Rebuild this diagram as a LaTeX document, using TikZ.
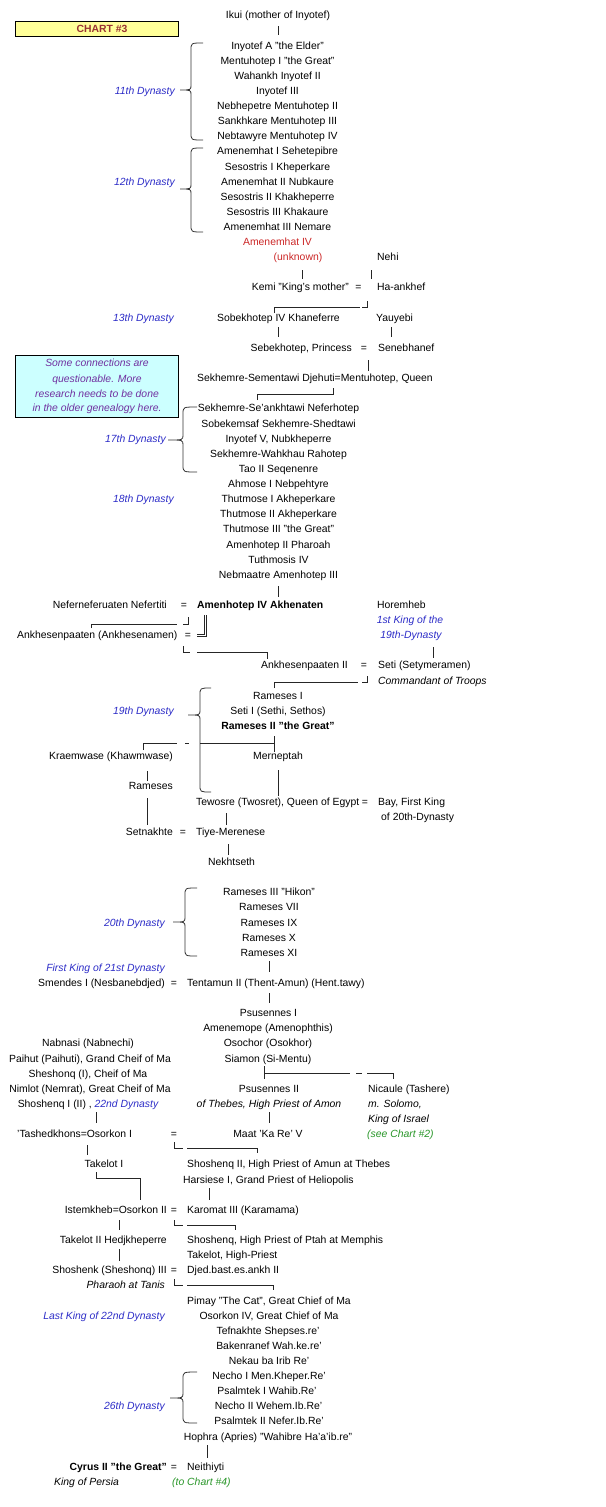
\documentclass[tikz,border=0pt]{standalone}
\usepackage{fontspec}
\setmainfont{Liberation Sans}
\definecolor{dynblue}{RGB}{45,45,200}
\definecolor{chartred}{RGB}{153,51,51}
\definecolor{kingred}{RGB}{204,40,40}
\definecolor{notepurple}{RGB}{112,48,160}
\definecolor{seegreen}{RGB}{40,150,40}
\definecolor{noteback}{RGB}{204,255,255}
\definecolor{chartback}{RGB}{255,255,153}
\newcommand\RY[1]{-(18.8+15.12*(#1))}
\newcommand\fsz{\fontsize{10.4}{12.5}\selectfont}
\newcommand\brc[6]{%
  \draw[brcs] (#3,-#4) .. controls (#2,-#4) .. (#2,{-#4-7}) -- (#2,{-#5+5})
    .. controls (#2,-#5) .. (#1,-#5) .. controls (#2,-#5) .. (#2,{-#5-5})
    -- (#2,{-#6+7}) .. controls (#2,-#6) .. (#3,-#6);}
\begin{document}
\begin{tikzpicture}[x=1pt,y=1pt,
  lbl/.style={font=\fsz, inner sep=0pt, text=black},
  c/.style={lbl,anchor=base},
  l/.style={lbl,anchor=base west},
  r/.style={lbl,anchor=base east},
  dyn/.style={text=dynblue, font=\fsz\itshape},
  it/.style={font=\fsz\itshape},
  bf/.style={font=\fsz\bfseries},
  red/.style={text=kingred},
  grn/.style={text=seegreen, font=\fsz\itshape},
  note/.style={text=notepurple, font=\fsz\itshape},
  conn/.style={line width=0.8pt, draw=black!85},
  brcs/.style={line width=0.8pt, draw=black!80},
  dbl/.style={draw=black!85, line width=0.6pt, double=white, double distance=1.4pt}]
\fill[white] (0,0) rectangle (605,-1507);
\useasboundingbox (0,0) rectangle (605,-1507);

% chart label and note
\node[draw=black, fill=chartback, minimum width=163pt, minimum height=15pt, inner sep=0pt, line width=0.8pt] (chartbox) at (96.5,-28.5) {};
\node[lbl, font=\fsz\bfseries, text=chartred] (chart) at (102,-28.8) {CHART \#3};
\node[draw=black, fill=noteback, minimum width=163pt, minimum height=62pt, inner sep=0pt, line width=0.8pt] (notebox) at (96.5,-386) {};
\node[c,note] (note1) at (97,{-(363+3.8)}) {Some connections are};
\node[c,note] (note2) at (97,{-(379+3.8)}) {questionable. More};
\node[c,note] (note3) at (97,{-(394+3.8)}) {research needs to be done};
\node[c,note] (note4) at (97,{-(408+3.8)}) {in the older genealogy here.};

% dynasty labels
\node[r,dyn] (d11) at (175,{\RY{5}}) {11th Dynasty};
\node[r,dyn] (d12) at (175,{\RY{11}}) {12th Dynasty};
\node[r,dyn] (d13) at (174,{\RY{20}}) {13th Dynasty};
\node[r,dyn] (d17) at (166,{\RY{28}}) {17th Dynasty};
\node[r,dyn] (d18) at (174,{\RY{32}}) {18th Dynasty};
\node[r,dyn] (d19) at (174,{\RY{46}}) {19th Dynasty};
\node[r,dyn] (d20) at (165,{\RY{60}}) {20th Dynasty};
\node[r,dyn] (d21) at (165,{\RY{63}}) {First King of 21st Dynasty};
\node[r,dyn] (d22) at (165,{\RY{86}}) {Last King of 22nd Dynasty};
\node[r,dyn] (d26) at (165,{\RY{92}}) {26th Dynasty};

% braces
\brc{180}{191}{203}{43}{90}{140}
\brc{180}{191}{203}{148}{189}{232}
\brc{168}{183}{197}{407}{440}{472}
\brc{188}{200}{211}{688}{715}{792}
\brc{173}{185}{197}{888}{922}{956}
\brc{170}{183}{197}{1372}{1398}{1423}

% central column
\node[c] (k00) at (278,{\RY{0}}) {Ikui (mother of Inyotef)};
\node[c] (k02) at (277.5,{\RY{2}}) {Inyotef A "the Elder"};
\node[c] (k03) at (277.5,{\RY{3}}) {Mentuhotep I "the Great"};
\node[c] (k04) at (277.5,{\RY{4}}) {Wahankh Inyotef II};
\node[c] (k05) at (277.5,{\RY{5}}) {Inyotef III};
\node[c] (k06) at (277.5,{\RY{6}}) {Nebhepetre Mentuhotep II};
\node[c] (k07) at (277.5,{\RY{7}}) {Sankhkare Mentuhotep III};
\node[c] (k08) at (277.5,{\RY{8}}) {Nebtawyre Mentuhotep IV};
\node[c] (k09) at (277.5,{\RY{9}}) {Amenemhat I Sehetepibre};
\node[c] (k10) at (277.5,{\RY{10}}) {Sesostris I Kheperkare};
\node[c] (k11) at (277.5,{\RY{11}}) {Amenemhat II Nubkaure};
\node[c] (k12) at (277.5,{\RY{12}}) {Sesostris II Khakheperre};
\node[c] (k13) at (277.5,{\RY{13}}) {Sesostris III Khakaure};
\node[c] (k14) at (277.5,{\RY{14}}) {Amenemhat III Nemare};
\node[c,red] (k15) at (277.5,{\RY{15}}) {Amenemhat IV};
\node[c,red] (k16) at (298,{\RY{16}}) {(unknown)};
\node[l] (nehi) at (377,{\RY{16}}) {Nehi};
\node[r] (kemi) at (349,{\RY{18}}) {Kemi "King's mother"};
\node[c] (eq18) at (358.5,{\RY{18}}) {=};
\node[l] (haankhef) at (377,{\RY{18}}) {Ha-ankhef};
\node[c] (k20) at (278.5,{\RY{20}}) {Sobekhotep IV Khaneferre};
\node[l] (yauyebi) at (376,{\RY{20}}) {Yauyebi};
\node[r] (k22) at (352,{\RY{22}}) {Sebekhotep, Princess};
\node[c] (eq22) at (364,{\RY{22}}) {=};
\node[l] (seneb) at (378,{\RY{22}}) {Senebhanef};
\node[l] (k24) at (197,{\RY{24}}) {Sekhemre-Sementawi Djehuti=Mentuhotep, Queen};
\node[c] (k26) at (278.5,{\RY{26}}) {Sekhemre-Se'ankhtawi Neferhotep};
\node[c] (k27) at (278.5,{\RY{27}}) {Sobekemsaf Sekhemre-Shedtawi};
\node[c] (k28) at (278.5,{\RY{28}}) {Inyotef V, Nubkheperre};
\node[c] (k29) at (278.5,{\RY{29}}) {Sekhemre-Wahkhau Rahotep};
\node[c] (k30) at (278.5,{\RY{30}}) {Tao II Seqenenre};
\node[c] (k31) at (278.5,{\RY{31}}) {Ahmose I Nebpehtyre};
\node[c] (k32) at (278.5,{\RY{32}}) {Thutmose I Akheperkare};
\node[c] (k33) at (278.5,{\RY{33}}) {Thutmose II Akheperkare};
\node[c] (k34) at (278.5,{\RY{34}}) {Thutmose III "the Great"};
\node[c] (k35) at (278.5,{\RY{35}}) {Amenhotep II Pharoah};
\node[c] (k36) at (278.5,{\RY{36}}) {Tuthmosis IV};
\node[c] (k37) at (278.5,{\RY{37}}) {Nebmaatre Amenhotep III};
\node[r] (nefertiti) at (167,{\RY{39}}) {Neferneferuaten Nefertiti};
\node[c] (eq39) at (184,{\RY{39}}) {=};
\node[l,bf] (akhenaten) at (197,{\RY{39}}) {Amenhotep IV Akhenaten};
\node[l] (horemheb) at (377,{\RY{39}}) {Horemheb};
\node[c,dyn] (first19a) at (410,{\RY{40}}) {1st King of the};
\node[c,dyn] (first19b) at (411,{\RY{41}}) {19th-Dynasty};
\node[l] (ankhes) at (17,{\RY{41}}) {Ankhesenpaaten (Ankhesenamen)};
\node[c] (eq41) at (188,{\RY{41}}) {=};
\node[r] (ankhes2) at (348,{\RY{43}}) {Ankhesenpaaten II};
\node[c] (eq43) at (364,{\RY{43}}) {=};
\node[l] (seti) at (378,{\RY{43}}) {Seti (Setymeramen)};
\node[l,it] (commandant) at (378,{\RY{44}}) {Commandant of Troops};
\node[c] (k45) at (278,{\RY{45}}) {Rameses I};
\node[c] (k46) at (278,{\RY{46}}) {Seti I (Sethi, Sethos)};
\node[c,bf] (k47) at (278,{\RY{47}}) {Rameses II "the Great"};
\node[r] (kraemwase) at (173,{\RY{49}}) {Kraemwase (Khawmwase)};
\node[c] (merneptah) at (278,{\RY{49}}) {Merneptah};
\node[r] (rameses51) at (173,{\RY{51}}) {Rameses};
\node[l] (tewosre) at (196,{\RY{52}}) {Tewosre (Twosret), Queen of Egypt};
\node[c] (eq52) at (365,{\RY{52}}) {=};
\node[l] (bay) at (378,{\RY{52}}) {Bay, First King};
\node[l] (bay2) at (381,{\RY{53}}) {of 20th-Dynasty};
\node[r] (setnakhte) at (173,{\RY{54}}) {Setnakhte};
\node[c] (eq54) at (183,{\RY{54}}) {=};
\node[l] (tiye) at (196,{\RY{54}}) {Tiye-Merenese};
\node[l] (nekhtseth) at (208,{\RY{56}}) {Nekhtseth};
\node[c] (k58) at (269,{\RY{58}}) {Rameses III "Hikon"};
\node[c] (k59) at (269,{\RY{59}}) {Rameses VII};
\node[c] (k60) at (269,{\RY{60}}) {Rameses IX};
\node[c] (k61) at (269,{\RY{61}}) {Rameses X};
\node[c] (k62) at (269,{\RY{62}}) {Rameses XI};
\node[r] (smendes) at (165,{\RY{64}}) {Smendes I (Nesbanebdjed)};
\node[c] (eq64) at (174,{\RY{64}}) {=};
\node[l] (tentamun) at (187,{\RY{64}}) {Tentamun II (Thent-Amun) (Hent.tawy)};
\node[c] (k66) at (268.5,{\RY{66}}) {Psusennes I};
\node[c] (k67) at (268,{\RY{67}}) {Amenemope (Amenophthis)};
\node[c] (k68) at (268,{\RY{68}}) {Osochor (Osokhor)};
\node[c] (k69) at (268,{\RY{69}}) {Siamon (Si-Mentu)};
\node[c] (nabnasi) at (88,{\RY{68}}) {Nabnasi (Nabnechi)};
\node[c] (paihut) at (90,{\RY{69}}) {Paihut (Paihuti), Grand Cheif of Ma};
\node[c] (sheshonq1) at (88,{\RY{70}}) {Sheshonq (I), Cheif of Ma};
\node[c] (nimlot) at (90,{\RY{71}}) {Nimlot (Nemrat), Great Cheif of Ma};
\node[c] (shoshenq1) at (88,{\RY{72}}) {Shoshenq I (II) , \textcolor{dynblue}{\itshape 22nd Dynasty}};
\node[c] (k71) at (269,{\RY{71}}) {Psusennes II};
\node[c,it] (k72) at (269,{\RY{72}}) {of Thebes, High Priest of Amon};
\node[l] (nicaule) at (368,{\RY{71}}) {Nicaule (Tashere)};
\node[l,it] (solomo) at (368,{\RY{72}}) {m. Solomo,};
\node[l,it] (israel) at (368,{\RY{73}}) {King of Israel};
\node[l,grn] (see2) at (367,{\RY{74}}) {(see Chart \#2)};
\node[l] (tashed) at (17,{\RY{74}}) {'Tashedkhons=Osorkon I};
\node[c] (eq74) at (174,{\RY{74}}) {=};
\node[c] (maat) at (268,{\RY{74}}) {Maat 'Ka Re' V};
\node[c] (takelot1) at (104,{\RY{76}}) {Takelot I};
\node[l] (shoshenq2) at (187,{\RY{76}}) {Shoshenq II, High Priest of Amun at Thebes};
\node[l] (harsiese) at (183,{\RY{77}}) {Harsiese I, Grand Priest of Heliopolis};
\node[r] (istemkheb) at (167,{\RY{79}}) {Istemkheb=Osorkon II};
\node[c] (eq79) at (174,{\RY{79}}) {=};
\node[l] (karomat) at (187,{\RY{79}}) {Karomat III (Karamama)};
\node[r] (takelot2) at (167,{\RY{81}}) {Takelot II Hedjkheperre};
\node[l] (shoshenqP) at (187,{\RY{81}}) {Shoshenq, High Priest of Ptah at Memphis};
\node[l] (takelotHP) at (187,{\RY{82}}) {Takelot, High-Priest};
\node[r] (shoshenk3) at (167,{\RY{83}}) {Shoshenk (Sheshonq) III};
\node[c] (eq83) at (174,{\RY{83}}) {=};
\node[l] (djed) at (187,{\RY{83}}) {Djed.bast.es.ankh II};
\node[r,it] (tanis) at (165,{\RY{84}}) {Pharaoh at Tanis};
\node[c] (k85) at (269,{\RY{85}}) {Pimay "The Cat", Great Chief of Ma};
\node[c] (k86) at (269,{\RY{86}}) {Osorkon IV, Great Chief of Ma};
\node[c] (k87) at (268,{\RY{87}}) {Tefnakhte Shepses.re'};
\node[c] (k88) at (269,{\RY{88}}) {Bakenranef Wah.ke.re'};
\node[c] (k89) at (269,{\RY{89}}) {Nekau ba Irib Re'};
\node[c] (k90) at (269,{\RY{90}}) {Necho I Men.Kheper.Re'};
\node[c] (k91) at (267,{\RY{91}}) {Psalmtek I Wahib.Re'};
\node[c] (k92) at (268.5,{\RY{92}}) {Necho II Wehem.Ib.Re'};
\node[c] (k93) at (269,{\RY{93}}) {Psalmtek II Nefer.Ib.Re'};
\node[c] (k94) at (268,{\RY{94}}) {Hophra (Apries) "Wahibre Ha'a'ib.re"};
\node[r,bf] (cyrus) at (167,{\RY{96}}) {Cyrus II "the Great"};
\node[c] (eq96) at (174,{\RY{96}}) {=};
\node[l] (neithiyti) at (187,{\RY{96}}) {Neithiyti};
\node[l,it] (persia) at (54,{\RY{97}}) {King of Persia};
\node[l,grn] (to4) at (172,{\RY{97}}) {(to Chart \#4)};

% connectors
\draw[conn] (278,-26) -- (278,-35);
\draw[conn] (302,-270) -- (302,-279);
\draw[conn] (371,-270) -- (371,-279);
\draw[conn] (274,-313) -- (274,-307) -- (360,-307);
\draw[conn] (362,-307) -- (367,-307) -- (367,-301);
\draw[conn] (278,-327) -- (278,-337);
\draw[conn] (391,-327) -- (391,-337);
\draw[conn] (368,-360) -- (368,-371);
\draw[conn] (257,-400) -- (257,-394) -- (333,-394) -- (333,-388);
\draw[conn] (278,-586) -- (278,-597);
\draw[conn] (91,-628) -- (91,-624) -- (177,-624);
\draw[conn] (183,-624) -- (188,-624) -- (188,-617);
\draw[dbl] (205.5,-615) -- (205.5,-635.5) -- (197,-635.5);
\draw[conn] (183,-646) -- (183,-652) -- (190,-652);
\draw[conn] (197,-652) -- (267,-652) -- (267,-659);
\draw[conn] (433,-647) -- (433,-658);
\draw[conn] (274,-688) -- (274,-682) -- (358,-682);
\draw[conn] (362,-682) -- (367,-682) -- (367,-676);
\draw[conn] (143,-750) -- (143,-743) -- (177,-743);
\draw[conn] (185,-743) -- (189,-743);
\draw[conn] (200,-743) -- (274,-743);
\draw[conn] (274,-736) -- (274,-752);
\draw[conn] (147,-771) -- (147,-781);
\draw[conn] (278,-770) -- (278,-796);
\draw[conn] (147,-798) -- (147,-825);
\draw[conn] (226,-813) -- (226,-825);
\draw[conn] (228,-844) -- (228,-855);
\draw[conn] (269,-961) -- (269,-972);
\draw[conn] (269,-993) -- (269,-1003);
\draw[conn] (264,-1066) -- (264,-1079);
\draw[conn] (264,-1073) -- (350,-1073);
\draw[conn] (356,-1073) -- (362,-1073);
\draw[conn] (367,-1073) -- (393,-1073) -- (393,-1079);
\draw[conn] (96,-1112) -- (96,-1123);
\draw[conn] (269,-1112) -- (269,-1123);
\draw[conn] (174,-1142) -- (174,-1148) -- (183,-1148);
\draw[conn] (187,-1148) -- (257,-1148) -- (257,-1153);
\draw[conn] (87,-1145) -- (87,-1155);
\draw[conn] (96,-1172) -- (96,-1178) -- (140,-1178) -- (140,-1200);
\draw[conn] (209,-1188) -- (209,-1200);
\draw[conn] (174,-1220) -- (174,-1225) -- (183,-1225);
\draw[conn] (187,-1225) -- (235,-1225) -- (235,-1230);
\draw[conn] (119,-1220) -- (119,-1230);
\draw[conn] (119,-1249) -- (119,-1261);
\draw[conn] (174,-1279) -- (174,-1285) -- (183,-1285);
\draw[conn] (187,-1285) -- (273,-1285) -- (273,-1290);
\draw[conn] (207,-1445) -- (207,-1458);
\end{tikzpicture}
\end{document}
